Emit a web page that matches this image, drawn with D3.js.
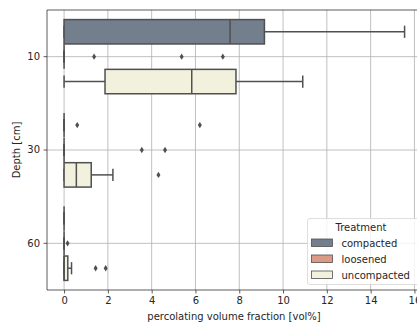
<!DOCTYPE html>
<html>
<head>
<meta charset="utf-8">
<script src="https://cdn.jsdelivr.net/npm/d3@7"></script>
<style>
  body { margin: 0; background: #fff; }
  text { font-family: "DejaVu Sans", sans-serif; }
</style>
</head>
<body>
<svg id="chart" width="417" height="327"></svg>
<script>
// categories
const depths = ["10", "30", "60"];
const treatments = ["compacted", "loosened", "uncompacted"];
const colors = ["#737f8c", "#dc9a84", "#f2f1dd"];
const xTicks = [0, 2, 4, 6, 8, 10, 12, 14, 16];

// box statistics, one row per depth, one column per treatment
const whiskerLow = [[0, 0, 0], [0, 0, 0], [0, 0, 0]];
const q1 = [[0, 0, 1.87], [0, 0, 0], [0, 0, 0]];
const median = [[7.58, 0, 5.83], [0, 0, 0.56], [0, 0, 0]];
const q3 = [[9.15, 0, 7.85], [0, 0, 1.24], [0, 0, 0.17]];
const whiskerHigh = [[15.55, 0, 10.9], [0, 0, 2.23], [0, 0, 0.34]];
const outliers = [
    [[], [1.37, 5.37, 7.25], []],
    [[0.6, 6.2], [3.55, 4.61], [4.31]],
    [[], [0.16], [1.44, 1.9]]
];

const svg = d3.select("#chart");
const axLeft = 47, axTop = 10, axBottom = 290, axRight = 421;
const lineColor = "#505050";

const x = d3.scaleLinear().domain([-0.78, 16.3]).range([axLeft, axRight]);
const y = d3.scaleBand().domain(depths).range([axTop, axBottom]).padding(0);
const hue = d3.scaleBand().domain(treatments)
    .range([-y.bandwidth() * 0.4, y.bandwidth() * 0.4]);
const boxH = hue.bandwidth() * 0.98;

// grid
svg.append("g")
    .selectAll("line")
    .data(xTicks)
    .join("line")
    .attr("x1", d => x(d)).attr("x2", d => x(d))
    .attr("y1", axTop).attr("y2", axBottom)
    .attr("stroke", "#b0b0b0").attr("stroke-width", 0.8);

svg.append("g")
    .selectAll("line")
    .data(depths)
    .join("line")
    .attr("x1", axLeft).attr("x2", axRight)
    .attr("y1", d => y(d) + y.bandwidth() / 2).attr("y2", d => y(d) + y.bandwidth() / 2)
    .attr("stroke", "#b0b0b0").attr("stroke-width", 0.8);

// boxes
depths.forEach((depth, i) => {
    treatments.forEach((t, j) => {
        const cy = y(depth) + y.bandwidth() / 2 + hue(t) + hue.bandwidth() / 2;
        const g = svg.append("g");
        // whiskers
        g.append("line")
            .attr("x1", x(whiskerLow[i][j])).attr("x2", x(q1[i][j]))
            .attr("y1", cy).attr("y2", cy)
            .attr("stroke", lineColor).attr("stroke-width", 1.5);
        g.append("line")
            .attr("x1", x(q3[i][j])).attr("x2", x(whiskerHigh[i][j]))
            .attr("y1", cy).attr("y2", cy)
            .attr("stroke", lineColor).attr("stroke-width", 1.5);
        // caps
        [whiskerLow[i][j], whiskerHigh[i][j]].forEach(v => {
            g.append("line")
                .attr("x1", x(v)).attr("x2", x(v))
                .attr("y1", cy - boxH / 4).attr("y2", cy + boxH / 4)
                .attr("stroke", lineColor).attr("stroke-width", 1.5);
        });
        // box
        g.append("rect")
            .attr("x", x(q1[i][j]))
            .attr("y", cy - boxH / 2)
            .attr("width", x(q3[i][j]) - x(q1[i][j]))
            .attr("height", boxH)
            .attr("fill", colors[j])
            .attr("stroke", lineColor).attr("stroke-width", 1.5);
        // median
        g.append("line")
            .attr("x1", x(median[i][j])).attr("x2", x(median[i][j]))
            .attr("y1", cy - boxH / 2).attr("y2", cy + boxH / 2)
            .attr("stroke", lineColor).attr("stroke-width", 1.5);
        // outliers (thin diamonds)
        g.selectAll("path")
            .data(outliers[i][j])
            .join("path")
            .attr("d", d => `M${x(d)},${cy - 3.2}L${x(d) + 2},${cy}L${x(d)},${cy + 3.2}L${x(d) - 2},${cy}Z`)
            .attr("fill", lineColor);
    });
});

// axes
const xAxis = svg.append("g")
    .attr("transform", `translate(0,${axBottom})`)
    .call(d3.axisBottom(x).tickValues(xTicks).tickSize(3.5).tickPadding(3.5));
const yAxis = svg.append("g")
    .attr("transform", `translate(${axLeft},0)`)
    .call(d3.axisLeft(y).tickSize(3.5).tickPadding(3.5));

[xAxis, yAxis].forEach(a => {
    a.select(".domain").remove();
    a.selectAll("text")
        .attr("font-size", "10px")
        .attr("fill", "#262626")
        .style("font-family", "'DejaVu Sans', sans-serif");
    a.selectAll("line").attr("stroke", "#333").attr("stroke-width", 0.8);
});

// spines
svg.append("path")
    .attr("d", `M${axRight},${axTop}L${axLeft},${axTop}L${axLeft},${axBottom}L${axRight},${axBottom}`)
    .attr("fill", "none")
    .attr("stroke", "#333")
    .attr("stroke-width", 0.8);

// labels
svg.append("text")
    .attr("x", 234)
    .attr("y", 320)
    .attr("text-anchor", "middle")
    .attr("font-size", "10px")
    .attr("fill", "#262626")
    .text("percolating volume fraction [vol%]");

svg.append("text")
    .attr("transform", `translate(20,${(axTop + axBottom) / 2}) rotate(-90)`)
    .attr("text-anchor", "middle")
    .attr("font-size", "10px")
    .attr("fill", "#262626")
    .text("Depth [cm]");

// legend
const legend = svg.append("g").attr("transform", "translate(307,218)");
legend.append("rect")
    .attr("x", 0.5).attr("y", 0.5)
    .attr("width", 120).attr("height", 66)
    .attr("rx", 2.5)
    .attr("fill", "#fff").attr("fill-opacity", 0.8)
    .attr("stroke", "#d6d6d6").attr("stroke-width", 0.8);
legend.append("text")
    .attr("x", 54).attr("y", 13)
    .attr("text-anchor", "middle")
    .attr("font-size", "10px")
    .attr("fill", "#262626")
    .text("Treatment");
treatments.forEach((t, j) => {
    const ry = 21 + j * 16;
    legend.append("rect")
        .attr("x", 4.5).attr("y", ry)
        .attr("width", 21).attr("height", 7.5)
        .attr("fill", colors[j])
        .attr("stroke", lineColor).attr("stroke-width", 0.8);
    legend.append("text")
        .attr("x", 34.5).attr("y", ry + 8)
        .attr("font-size", "10px")
        .attr("fill", "#262626")
        .text(t);
});
</script>
</body>
</html>
